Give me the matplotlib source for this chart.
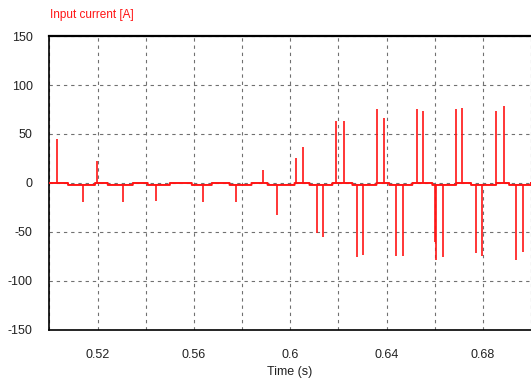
import numpy as np
import matplotlib
matplotlib.use("Agg")
import matplotlib.pyplot as plt
from matplotlib.ticker import MultipleLocator, FixedLocator

plt.rcParams["font.family"] = ["Liberation Sans", "DejaVu Sans"]
plt.rcParams["axes.unicode_minus"] = False

# corrente de entrada: picos de comutacao (s, A)
pico_pos_t = [0.5030, 0.5197, 0.5886, 0.6025, 0.6052, 0.6190, 0.6222, 0.6360,
              0.6388, 0.6526, 0.6551, 0.6690, 0.6715, 0.6855, 0.6887]
pico_pos_v = [45, 22, 13, 25, 37, 63, 63, 75, 66, 75, 73, 75, 77, 73, 79]

pico_neg_t = [0.5140, 0.5306, 0.5444, 0.5638, 0.5776, 0.5944, 0.6110, 0.6135,
              0.6276, 0.6301, 0.6441, 0.6467, 0.6603, 0.6607, 0.6635, 0.6773,
              0.6798, 0.6939, 0.6967]
pico_neg_v = [-19, -19, -18, -19, -19, -33, -51, -55, -76, -73, -75, -75,
              -60, -79, -76, -71, -75, -79, -70]

# intervalos em que a linha de base fica levemente negativa
base_ini = [0.5077, 0.5242, 0.5408, 0.5591, 0.5748, 0.5906, 0.6080, 0.6258,
            0.6411, 0.6590, 0.6751, 0.6909]
base_fim = [0.5189, 0.5346, 0.5500, 0.5674, 0.5839, 0.6018, 0.6175, 0.6358,
            0.6507, 0.6689, 0.6855, 0.7000]
base_nivel = -2.0

xticks = [0.52, 0.56, 0.60, 0.64, 0.68]
xtick_labels = ["0.52", "0.56", "0.6", "0.64", "0.68"]
yticks = [-150, -100, -50, 0, 50, 100, 150]

VERMELHO = "#ff1414"


def linha_base(t):
    t = np.asarray(t, dtype=float)
    v = np.zeros_like(t)
    for a, b in zip(base_ini, base_fim):
        v[(t >= a) & (t < b)] = base_nivel
    return v


# curva da linha de base (degraus)
bordas = sorted([0.5, 0.7] + base_ini + base_fim)
tb = []
for b in bordas:
    tb += [b - 1e-7, b]
tb = np.clip(np.array(tb), 0.5, 0.7)
vb = linha_base(tb)

fig = plt.figure(figsize=(5.31, 3.83), dpi=100)
ax = fig.add_axes([0.0932, 0.1384, 0.9068, 0.7676])

ax.plot(tb, vb, color=VERMELHO, lw=1.4, zorder=3)
ax.vlines(pico_pos_t, linha_base(pico_pos_t), pico_pos_v, color=VERMELHO, lw=1.2, zorder=3)
ax.vlines(pico_neg_t, linha_base(pico_neg_t), pico_neg_v, color=VERMELHO, lw=1.2, zorder=3)

ax.set_xlim(0.5, 0.7)
ax.set_ylim(-150, 150)
ax.xaxis.set_major_locator(FixedLocator(xticks))
ax.set_xticklabels(xtick_labels)
ax.xaxis.set_minor_locator(MultipleLocator(0.02))
ax.set_yticks(yticks)

ax.grid(True, which="both", axis="x", color="#707070", lw=0.8, ls=(0, (3, 3.5)))
ax.grid(True, which="major", axis="y", color="#707070", lw=0.8, ls=(0, (3, 3.5)))
ax.tick_params(which="both", length=0, labelsize=9, colors="#222222")
ax.tick_params(axis="x", pad=14)
ax.tick_params(axis="y", pad=12)

for lado in ["top", "left", "bottom"]:
    ax.spines[lado].set_color("black")
ax.spines["top"].set_linewidth(1.6)
ax.spines["left"].set_linewidth(1.2)
ax.spines["bottom"].set_linewidth(1.2)
ax.spines["right"].set_visible(False)

fig.text(0.094, 0.96, "Input current [A]", color=VERMELHO, fontsize=8.5, va="center", ha="left")
fig.text(0.546, 0.028, "Time (s)", color="#222222", fontsize=9, va="center", ha="center")

fig.savefig("out.png", dpi=100)
